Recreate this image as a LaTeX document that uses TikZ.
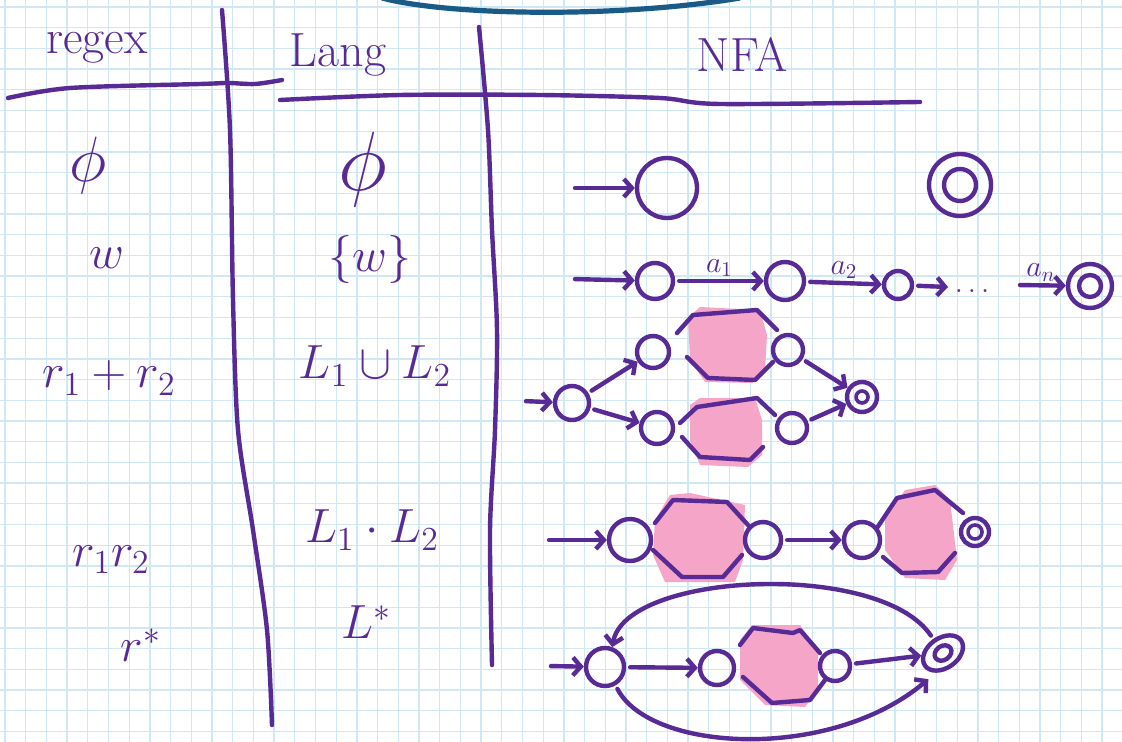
\RequirePackage{fix-cm}
\documentclass[tikz,border=0pt]{standalone}
\usetikzlibrary{arrows.meta, shapes.geometric, positioning}
\definecolor{ink}{RGB}{88,42,150}
\definecolor{gridblue}{RGB}{208,232,244}
\definecolor{blob}{RGB}{245,165,200}
\definecolor{arcblue}{RGB}{25,90,135}
\tikzstyle{pen} = [draw=ink, line width=2.2pt, line cap=round, line join=round]
\tikzstyle{state} = [pen, circle, inner sep=0pt]
\tikzstyle{trans} = [pen, -{Straight Barb[length=4pt,width=9pt]}, shorten <=2pt]
\tikzstyle{entry} = [text=ink, font=\fontsize{24}{28}\selectfont]
\tikzstyle{sym} = [text=ink, font=\fontsize{15}{17}\selectfont, inner sep=1pt]

\begin{document}
\begin{tikzpicture}[x=0.5pt, y=-0.5pt]

        % Paper
        \fill[white] (0,0) rectangle (1122,742);
        \useasboundingbox (0,0) rectangle (1122,742);
        \foreach \i in {0,...,54}
            \draw[gridblue, line width=0.65pt] (5+20.7*\i,0) -- (5+20.7*\i,742);
        \foreach \i in {0,...,35}
            \draw[gridblue, line width=0.65pt] (0,7+20.7*\i) -- (1122,7+20.7*\i);
        \draw[arcblue, line width=2.6pt] (382,-2) .. controls (450,16) and (620,18) .. (740,-2);

        % Table rules
        \draw[pen] plot[smooth] coordinates {(8,98) (70,88) (200,84) (228,83) (255,84) (282,80)};
        \draw[pen] plot[smooth] coordinates {(280,100) (400,95) (540,95) (660,98) (720,104) (920,102)};
        \draw[pen] plot[smooth] coordinates {(222,10) (230,130) (233,300) (238,430) (253,530) (267,630) (272,725)};
        \draw[pen] plot[smooth] coordinates {(479,27) (488,130) (492,230) (497,330) (495,430) (490,530) (492,665)};

        % Headings
        \node[entry] (hregex) at (97,48) {regex};
        \node[entry] (hlang) at (338,55) {Lang};
        \node[entry] (hnfa) at (742,55) {NFA};

        % regex and language columns
        \node[entry, font=\fontsize{32}{36}\selectfont] (re0) at (88,166) {$\phi$};
        \node[entry, font=\fontsize{42}{46}\selectfont] (la0) at (363,170) {$\phi$};
        \node[entry] (re1) at (107,258) {$w$};
        \node[entry] (la1) at (370,260) {$\{w\}$};
        \node[entry] (re2) at (109,378) {$r_1+r_2$};
        \node[entry] (la2) at (375,366) {$L_1\cup L_2$};
        \node[entry] (la3) at (372,530) {$L_1\cdot L_2$};
        \node[entry] (re3) at (111,560) {$r_1r_2$};
        \node[entry] (re4) at (141,645) {$r^*$};
        \node[entry] (la4) at (366,622) {$L^*$};

        % Sub-machines
        \fill[blob] (688,318) -- (700,307) -- (760,310) -- (767,335) -- (765,370) -- (752,383) -- (705,382) -- (690,360) -- cycle;
        \fill[blob] (690,405) -- (700,398) -- (755,398) -- (762,420) -- (762,455) -- (748,467) -- (700,465) -- (690,440) -- cycle;
        \fill[blob] (655,520) -- (670,495) -- (690,493) -- (745,505) -- (743,560) -- (735,582) -- (665,582) -- (653,555) -- cycle;
        \fill[blob] (885,520) -- (905,490) -- (935,485) -- (950,500) -- (957,560) -- (945,580) -- (905,578) -- (885,550) -- cycle;
        \fill[blob] (740,640) -- (752,625) -- (800,625) -- (818,650) -- (818,690) -- (805,707) -- (765,705) -- (740,680) -- cycle;

        \draw[pen] (677,333) -- (693,315) -- (757,310) -- (777,330);
        \draw[pen] (687,357) -- (708,378) -- (755,380) -- (773,362);
        \draw[pen] (680,423) -- (697,407) -- (757,398) -- (775,415);
        \draw[pen] (682,437) -- (700,457) -- (750,460) -- (763,447);
        \draw[pen] (655,523) -- (673,500) -- (727,502) -- (748,525);
        \draw[pen] (653,550) -- (682,577) -- (723,577) -- (742,555);
        \draw[pen] (877,528) -- (897,498) -- (935,490) -- (963,513);
        \draw[pen] (883,557) -- (902,573) -- (938,572) -- (955,553);
        \draw[pen] (740,645) -- (753,628) -- (793,633) -- (800,630) -- (820,653);
        \draw[pen] (743,677) -- (772,703) -- (810,700) -- (825,680);

        % Empty language
        \coordinate (s1) at (571,188);
        \node[state, minimum size=30pt] (q1) at (667,188) {};
        \node[state, minimum size=31pt] (f1) at (960,185) {};
        \node[state, minimum size=16pt] (f1in) at (f1) {};
        \draw[trans] (s1) -- (q1);

        % Single word
        \coordinate (s2) at (571,279);
        \node[state, minimum size=18pt] (w0) at (655,281) {};
        \node[state, minimum size=19pt] (w1) at (785,281) {};
        \node[state, minimum size=14pt] (w2) at (898,285) {};
        \coordinate (d1) at (948,287);
        \node[sym] (dots) at (972,291) {$\dots$};
        \coordinate (d2) at (1016,285);
        \node[state, minimum size=22pt] (wf) at (1090,286) {};
        \node[state, minimum size=11pt] (wfin) at (wf) {};
        \draw[trans] (s2) -- (w0);
        \draw[trans] (w0) -- node[sym, above] {$a_1$} (w1);
        \draw[trans] (w1) -- node[sym, above] {$a_2$} (w2);
        \draw[trans] (w2) -- (d1);
        \draw[trans] (d2) -- node[sym, above] {$a_n$} (wf);

        % Union
        \coordinate (s3) at (522,401);
        \node[state, minimum size=17pt] (u0) at (572,403) {};
        \node[state, minimum size=16pt] (u1) at (653,352) {};
        \node[state, minimum size=15pt] (u2) at (788,350) {};
        \node[state, minimum size=16pt] (u3) at (657,428) {};
        \node[state, minimum size=15pt] (u4) at (792,428) {};
        \node[state, minimum size=15pt] (uf) at (862,397) {};
        \node[state, minimum size=6pt, line width=1.8pt] (ufin) at (uf) {};
        \draw[trans] (s3) -- (u0);
        \draw[trans] (u0) -- (u1);
        \draw[trans] (u0) -- (u3);
        \draw[trans] (u2) -- (uf);
        \draw[trans] (u4) -- (uf);

        % Concatenation
        \coordinate (s4) at (545,540);
        \node[state, minimum size=21pt] (c1) at (630,540) {};
        \node[state, minimum size=18pt] (c2) at (763,540) {};
        \node[state, minimum size=18pt] (c3) at (862,540) {};
        \node[state, minimum size=14pt] (cf) at (975,532) {};
        \node[state, minimum size=7pt, line width=1.8pt] (cfin) at (cf) {};
        \draw[trans] (s4) -- (c1);
        \draw[trans] (c2) -- (c3);

        % Star
        \coordinate (s5) at (547,666);
        \node[state, minimum size=19pt] (k0) at (605,667) {};
        \node[state, minimum size=17pt] (k1) at (717,668) {};
        \node[state, minimum size=15pt] (k2) at (835,666) {};
        \node[state, ellipse, minimum width=22pt, minimum height=15pt, rotate=35] (kf) at (943,653) {};
        \node[state, ellipse, minimum width=9pt, minimum height=7pt, rotate=35] (kfin) at (kf) {};
        \draw[trans] (s5) -- (k0);
        \draw[trans] (k0) -- (k1);
        \draw[trans] (k2) -- (kf);
        \draw[trans] (kf.north) .. controls (880,560) and (625,572) .. (k0.70);
        \draw[trans, shorten >=5pt] (k0.-60) .. controls (650,752) and (830,762) .. (kf.south west);
    \end{tikzpicture}
\end{document}
